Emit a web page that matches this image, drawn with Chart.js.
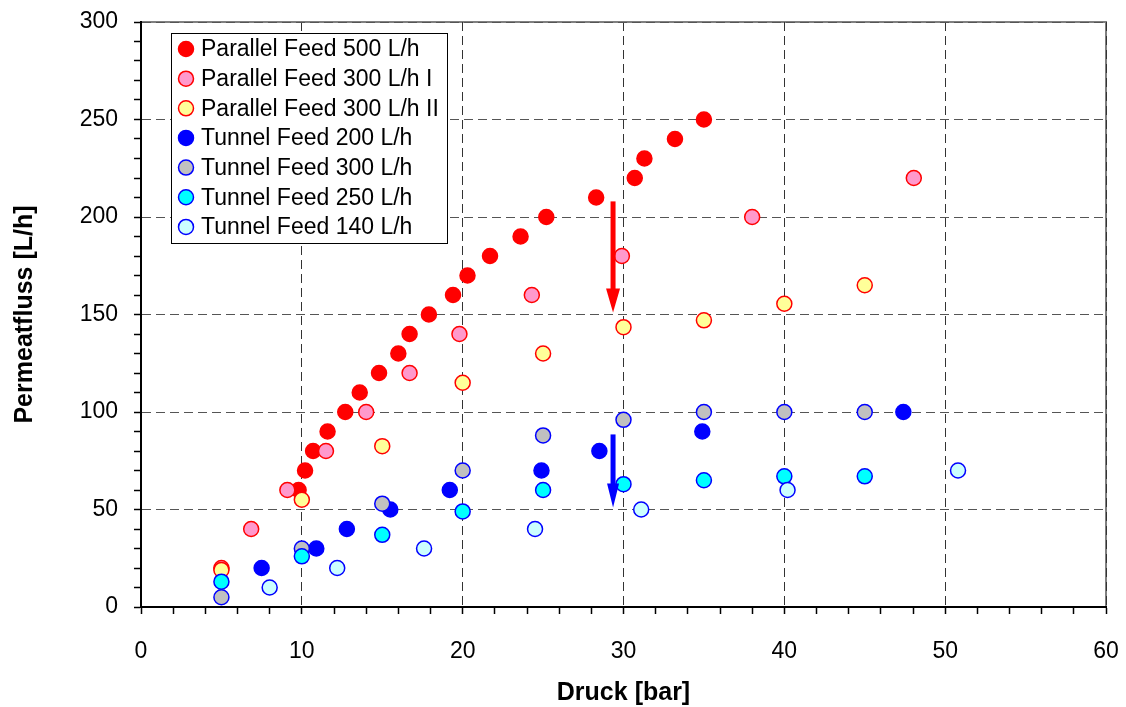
<!DOCTYPE html>
<html lang="de">
<head>
<meta charset="utf-8">
<title>Permeatfluss gegen Druck</title>
<script src="https://cdn.jsdelivr.net/npm/chart.js@4.4.1/dist/chart.umd.min.js"></script>
<style>
  html, body { margin: 0; padding: 0; background: #fff; }
  #graphique { display: block; }
</style>
</head>
<body>
<canvas id="graphique" width="1126" height="707"></canvas>
<script>
// Données : Druck [bar] (x) et Permeatfluss [L/h] (y)
const parallel500X = [9.8, 10.2, 10.7, 11.6, 12.7, 13.6, 14.8, 16.0, 16.7, 17.9, 19.4, 20.3, 21.7, 23.6, 25.2, 28.3, 30.7, 31.3, 33.2, 35.0];
const parallel500Y = [60, 70, 80, 90, 100, 110, 120, 130, 140, 150, 160, 170, 180, 190, 200, 210, 220, 230, 240, 250];

const parallel300IX = [5, 6.85, 9.1, 11.5, 14.0, 16.7, 19.8, 24.3, 29.9, 38.0, 48.05];
const parallel300IY = [20, 40, 60, 80, 100, 120, 140, 160, 180, 200, 220];

const parallel300IIX = [5, 10, 15, 20, 25, 30, 35, 40, 45];
const parallel300IIY = [19, 55, 82.5, 115, 130, 143.5, 147, 155.5, 165];

const tunnel200X = [7.5, 10.9, 12.8, 15.5, 19.2, 24.9, 28.5, 34.9, 47.4];
const tunnel200Y = [20, 30, 40, 50, 60, 70, 80, 90, 100];

const tunnel300X = [5, 10, 15, 20, 25, 30, 35, 40, 45];
const tunnel300Y = [5, 30, 53, 70, 88, 96, 100, 100, 100];

const tunnel250X = [5, 10, 15, 20, 25, 30, 35, 40, 45];
const tunnel250Y = [13, 26, 37, 49, 60, 63, 65, 67, 67];

const tunnel140X = [8, 12.2, 17.6, 24.5, 31.1, 40.2, 50.8];
const tunnel140Y = [10, 20, 30, 40, 50, 60, 70];

// Flèches verticales (coordonnées en unités des axes)
const flecheX = [29.35, 29.35];
const flecheHaut = [208, 88.5];
const flecheBas = [151, 51];

const police = "'Liberation Sans', Arial, Helvetica, sans-serif";

// Séries avec leurs couleurs (remplissage / bord)
const series = [
    { label: "Parallel Feed 500 L/h", x: parallel500X, y: parallel500Y, fond: "#ff0000", bord: "#ff0000" },
    { label: "Parallel Feed 300 L/h I", x: parallel300IX, y: parallel300IY, fond: "#ff99cc", bord: "#ff0000" },
    { label: "Parallel Feed 300 L/h II", x: parallel300IIX, y: parallel300IIY, fond: "#ffff99", bord: "#ff0000" },
    { label: "Tunnel Feed 200 L/h", x: tunnel200X, y: tunnel200Y, fond: "#0000ff", bord: "#0000ff" },
    { label: "Tunnel Feed 300 L/h", x: tunnel300X, y: tunnel300Y, fond: "#c0c0c0", bord: "#0000ff" },
    { label: "Tunnel Feed 250 L/h", x: tunnel250X, y: tunnel250Y, fond: "#00ffff", bord: "#0000ff" },
    { label: "Tunnel Feed 140 L/h", x: tunnel140X, y: tunnel140Y, fond: "#ccffff", bord: "#0000ff" }
];

const datasets = series.map((s, i) => ({
    label: s.label,
    data: s.x.map((x, j) => ({ x: x, y: s.y[j] })),
    backgroundColor: s.fond,
    borderColor: s.bord,
    borderWidth: 1.5,
    pointRadius: 7.5,
    pointHoverRadius: 7.5,
    // la dernière série est dessinée au-dessus
    order: series.length - i
}));

// Cadre gris autour de la zone de tracé (sous la grille)
const cadre = {
    id: "cadre",
    beforeDraw(chart) {
        const ctx = chart.ctx;
        const zone = chart.chartArea;
        ctx.save();
        ctx.fillStyle = "#fff";
        ctx.fillRect(0, 0, chart.width, chart.height);
        ctx.strokeStyle = "#808080";
        ctx.lineWidth = 2;
        ctx.strokeRect(zone.left, zone.top, zone.right - zone.left, zone.bottom - zone.top);
        ctx.restore();
    }
};

// Flèches rouge et bleue
const fleches = {
    id: "fleches",
    afterDatasetsDraw(chart) {
        const ctx = chart.ctx;
        const couleurs = ["#ff0000", "#0000ff"];
        const largeursTete = [14, 12];
        ctx.save();
        for (let i = 0; i < flecheX.length; i++) {
            const x = chart.scales.x.getPixelForValue(flecheX[i]);
            const y1 = chart.scales.y.getPixelForValue(flecheHaut[i]);
            const y2 = chart.scales.y.getPixelForValue(flecheBas[i]);
            const tete = 24;
            ctx.fillStyle = couleurs[i];
            ctx.fillRect(x - 2.5, y1, 5, y2 - y1 - tete + 1);
            ctx.beginPath();
            ctx.moveTo(x - largeursTete[i] / 2, y2 - tete);
            ctx.lineTo(x + largeursTete[i] / 2, y2 - tete);
            ctx.lineTo(x, y2);
            ctx.closePath();
            ctx.fill();
        }
        ctx.restore();
    }
};

// Légende encadrée dans la zone de tracé
const legende = {
    id: "legende",
    afterDraw(chart) {
        const ctx = chart.ctx;
        const zone = chart.chartArea;
        const gauche = Math.round(zone.left + 30);
        const haut = Math.round(zone.top + 11);
        ctx.save();
        ctx.fillStyle = "#fff";
        ctx.fillRect(gauche, haut, 276, 210);
        ctx.strokeStyle = "#000";
        ctx.lineWidth = 1;
        ctx.strokeRect(gauche + 0.5, haut + 0.5, 276, 210);
        chart.data.datasets.forEach((ds, i) => {
            const y = haut + 16 + i * 29.65;
            ctx.beginPath();
            ctx.arc(gauche + 15, y, 7.5, 0, 2 * Math.PI);
            ctx.fillStyle = ds.backgroundColor;
            ctx.fill();
            ctx.lineWidth = 1.5;
            ctx.strokeStyle = ds.borderColor;
            ctx.stroke();
            ctx.fillStyle = "#000";
            ctx.font = "23px " + police;
            ctx.textBaseline = "middle";
            ctx.fillText(ds.label, gauche + 30, y + 1);
        });
        ctx.restore();
    }
};

const config = {
    type: "scatter",
    data: { datasets: datasets },
    options: {
        responsive: false,
        animation: false,
        events: [],
        layout: { padding: { top: 22, right: 20, left: 0, bottom: 0 } },
        plugins: {
            legend: { display: false },
            tooltip: { enabled: false }
        },
        scales: {
            x: {
                type: "linear",
                min: 0,
                max: 60,
                ticks: {
                    stepSize: 2,
                    autoSkip: false,
                    maxRotation: 0,
                    padding: 24,
                    color: "#000",
                    font: { family: police, size: 23 },
                    callback: v => (v % 10 === 0 ? String(v) : "")
                },
                grid: {
                    color: c => (c.tick && c.tick.value % 10 === 0 ? "#333" : "rgba(0,0,0,0)"),
                    lineWidth: 1,
                    tickColor: "#000",
                    tickLength: 7,
                    tickWidth: 1.5
                },
                border: { display: true, color: "#000", width: 2, dash: [9, 5] },
                title: {
                    display: true,
                    text: "Druck [bar]",
                    color: "#000",
                    font: { family: police, size: 25, weight: "bold", lineHeight: 1 },
                    padding: { top: 0, bottom: 1 }
                },
                afterFit: s => {
                    s.height = 100;
                    s.paddingLeft = 0;
                    s.paddingRight = 0;
                }
            },
            y: {
                type: "linear",
                min: 0,
                max: 300,
                ticks: {
                    stepSize: 10,
                    autoSkip: false,
                    padding: 16,
                    color: "#000",
                    font: { family: police, size: 23 },
                    callback: v => (v % 50 === 0 ? String(v) : "")
                },
                grid: {
                    color: c => (c.tick && c.tick.value % 50 === 0 ? "#555" : "rgba(0,0,0,0)"),
                    lineWidth: 1,
                    tickColor: "#000",
                    tickLength: 7,
                    tickWidth: 1.5
                },
                border: { display: true, color: "#000", width: 2, dash: [9, 5] },
                title: {
                    display: true,
                    text: "Permeatfluss [L/h]",
                    color: "#000",
                    font: { family: police, size: 25, weight: "bold", lineHeight: 1 },
                    padding: { top: 13, bottom: 0 }
                },
                afterFit: s => {
                    s.width = 141;
                    s.paddingTop = 0;
                    s.paddingBottom = 0;
                }
            }
        }
    },
    plugins: [cadre, fleches, legende]
};

const graphique = new Chart(document.querySelector("#graphique"), config);
</script>
</body>
</html>
